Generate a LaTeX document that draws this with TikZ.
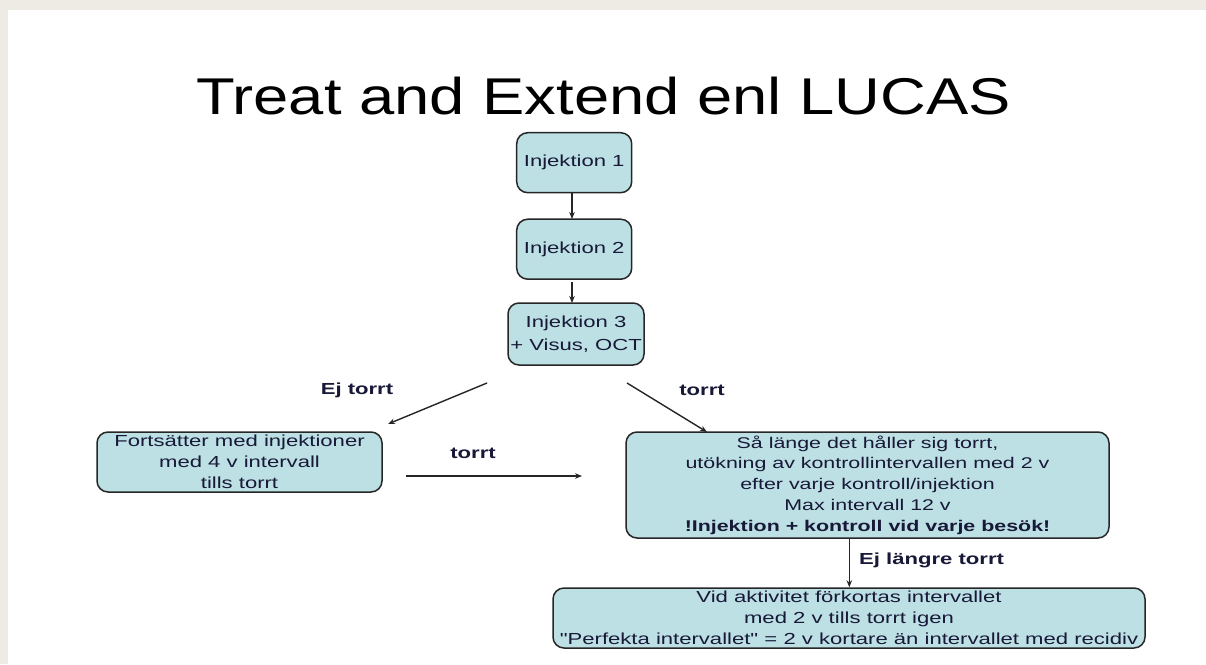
\documentclass[tikz,border=0pt]{standalone}
\usepackage{fontspec}
\setmainfont{Liberation Sans}[FakeStretch=1.38, Ligatures=TeXOff]
\newfontfamily\titlefont{Liberation Sans}[FakeStretch=1.225]
\usetikzlibrary{arrows.meta}
\definecolor{bgbeige}{HTML}{EEEBE4}
\definecolor{boxfill}{HTML}{BCE0E3}
\definecolor{boxline}{HTML}{262626}
\definecolor{txt}{RGB}{24,24,56}
\tikzset{
  box/.style={draw=boxline, line width=1.5pt, fill=boxfill, rounded corners=11pt,
    align=center, inner sep=0pt, text=txt,
    font=\fontsize{16}{21}\selectfont},
  conn/.style={draw=boxline, line width=1.4pt, -{Stealth[length=7pt,width=5.5pt]}},
  lbl/.style={text=txt, font=\fontsize{16}{20}\selectfont\bfseries, inner sep=0pt},
}
\begin{document}
\begin{tikzpicture}[x=1pt,y=-1pt]
\fill[bgbeige] (0,0) rectangle (1206,664);
\fill[white] (8,10) rectangle (1206,664);
\useasboundingbox (0,0) rectangle (1206,664);

\node[inner sep=0pt, anchor=base, font=\titlefont\fontsize{51.7}{60}\selectfont] (title) at (603.5,114) {Treat and Extend enl LUCAS};

\node[box, minimum width=115pt, minimum height=60pt] (inj1) at (574.2,162.7) {Injektion 1};
\node[box, minimum width=115pt, minimum height=60pt] (inj2) at (574.2,249.2) {Injektion 2};
\node[box, minimum width=136pt, minimum height=62pt, font=\fontsize{16}{23}\selectfont] (inj3) at (576,334) {Injektion 3\\+ Visus, OCT};
\node[box, minimum width=285pt, minimum height=60pt] (forts) at (239.5,462) {Fortsätter med injektioner\\med 4 v intervall\\tills torrt};
\node[box, minimum width=483pt, minimum height=106pt, font=\fontsize{15.5}{20.7}\selectfont] (big) at (867.5,485) {Så länge det håller sig torrt,\\utökning av kontrollintervallen med 2 v\\efter varje kontroll/injektion\\Max intervall 12 v\\\textbf{!Injektion + kontroll vid varje besök!}};
\node[box, minimum width=592pt, minimum height=60pt] (bot) at (849,618) {Vid aktivitet förkortas intervallet\\med 2 v tills torrt igen\\"Perfekta intervallet" = 2 v kortare än intervallet med recidiv};

\coordinate (a1) at (572,192.7);
\coordinate (a2) at (572,219);
\coordinate (b1) at (572,282);
\coordinate (b2) at (572,303);
\coordinate (ejs) at (487,383);
\coordinate (eje) at (388,424);
\coordinate (ts) at (627,383);
\coordinate (te) at (707,432);
\coordinate (hs) at (406,476);
\coordinate (he) at (582,476);

\draw[conn] (a1) -- (a2);
\draw[conn] (b1) -- (b2);
\draw[conn] (ejs) -- (eje);
\draw[conn] (ts) -- (te);
\draw[conn] (hs) -- (he);
\draw[conn] (big.south -| 849.3,0) -- (bot.north -| 849.3,0);

\node[lbl] (l1) at (357,390) {Ej torrt};
\node[lbl] (l2) at (702,390) {torrt};
\node[lbl] (l3) at (473,453) {torrt};
\node[lbl, anchor=west] (l4) at (859,560) {Ej längre torrt};
\end{tikzpicture}
\end{document}
